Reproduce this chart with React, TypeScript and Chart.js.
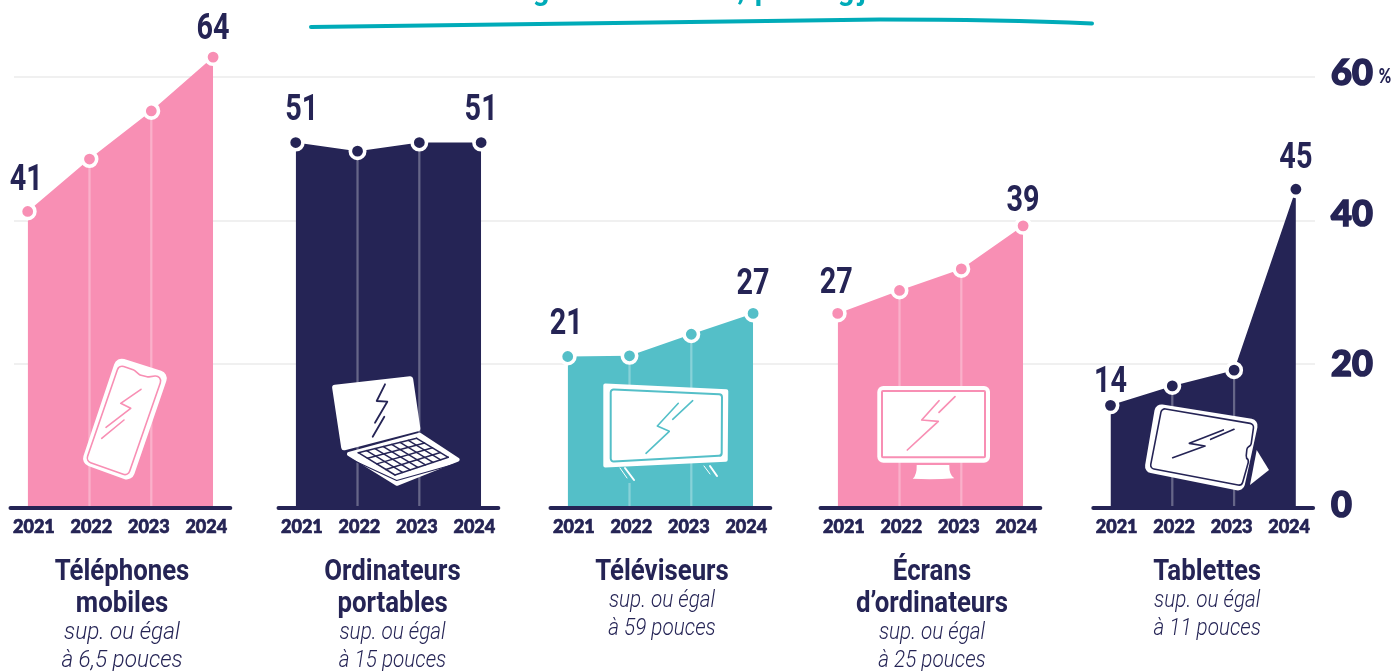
import React, { useEffect, useRef } from "react";
import { Chart, registerables } from "chart.js";

Chart.register(...registerables);

const years = ["2021", "2022", "2023", "2024"];
const categories = ["Téléphones mobiles", "Ordinateurs portables", "Téléviseurs", "Écrans d’ordinateurs", "Tablettes"];

// Heights of the plotted markers, as read against the axis
const telephones = [41.3, 48.6, 55.3, 62.8];
const ordinateurs = [50.9, 49.7, 50.9, 50.9];
const televiseurs = [21.1, 21.2, 24.2, 27.1];
const ecrans = [27.1, 30.3, 33.3, 39.3];
const tablettes = [14.3, 17.0, 19.2, 44.4];
const seriesValues = [telephones, ordinateurs, televiseurs, ecrans, tablettes];

// Figures printed in the picture, first and last year
const printedLabels = [["41", "64"], ["51", "51"], ["21", "27"], ["27", "39"], ["14", "45"]];
const titleLines = [["Téléphones", "mobiles"], ["Ordinateurs", "portables"], ["Téléviseurs"], ["Écrans", "d’ordinateurs"], ["Tablettes"]];
const subLines = [["sup. ou égal", "à 6,5 pouces"], ["sup. ou égal", "à 15 pouces"], ["sup. ou égal", "à 59 pouces"], ["sup. ou égal", "à 25 pouces"], ["sup. ou égal", "à 11 pouces"]];
const yTicks = [0, 20, 40, 60];
// The heading is cropped by the top of the picture: only these letter tails show
const headingTails = ["g", ",", "p", "g", "j"];

const NAVY = "#252455";
const PINK = "#f88fb4";
const TEAL = "#54bfc8";
const LINE = "#00abb8";
const colors = [PINK, NAVY, TEAL, PINK, NAVY];

// layout: horizontal start of each panel, in year-slots
const groupStart = [0, 4.337, 8.738, 13.107, 17.521];
const PX = 61.8; // pixels per slot
const X_LEFT = 14;
const X_RIGHT = 1315;
const X0 = 27.7;
const xMin = -(X0 - X_LEFT) / PX;
const xMax = xMin + (X_RIGHT - X_LEFT) / PX;
const tickStart = 0.1;
const tickStep = 0.93;
const tailX = [541, 741, 763, 846, 862];
const labelDy = [[-30, -27], [-32, -32], [-32, -28], [-29, -24], [-22, -30]];
const titleDx = [94.3, 96.8, 94.3, 94.3, 96.7];
const tickLift: Record<number, string> = { 0: "6px", 20: "1px", 40: "12px", 60: "8px" };

type P = [number, number];

function poly(ctx: CanvasRenderingContext2D, pts: P[], r = 0) {
  ctx.beginPath();
  const n = pts.length;
  if (r === 0) {
    pts.forEach((p, i) => (i ? ctx.lineTo(p[0], p[1]) : ctx.moveTo(p[0], p[1])));
  } else {
    const a = pts[n - 1], b = pts[0];
    ctx.moveTo((a[0] + b[0]) / 2, (a[1] + b[1]) / 2);
    for (let i = 0; i < n; i++) {
      const c = pts[i], d = pts[(i + 1) % n];
      ctx.arcTo(c[0], c[1], (c[0] + d[0]) / 2, (c[1] + d[1]) / 2, r);
    }
  }
  ctx.closePath();
}

function polyline(ctx: CanvasRenderingContext2D, pts: P[], color: string, w: number) {
  ctx.beginPath();
  pts.forEach((p, i) => (i ? ctx.lineTo(p[0], p[1]) : ctx.moveTo(p[0], p[1])));
  ctx.strokeStyle = color;
  ctx.lineWidth = w;
  ctx.lineCap = "round";
  ctx.lineJoin = "round";
  ctx.stroke();
}

function fillPoly(ctx: CanvasRenderingContext2D, pts: P[], color: string, r = 0) {
  poly(ctx, pts, r);
  ctx.fillStyle = color;
  ctx.fill();
}

function strokePoly(ctx: CanvasRenderingContext2D, pts: P[], color: string, w: number, r = 0) {
  poly(ctx, pts, r);
  ctx.strokeStyle = color;
  ctx.lineWidth = w;
  ctx.lineJoin = "round";
  ctx.stroke();
}

function drawIcons(ctx: CanvasRenderingContext2D) {
  // phone
  fillPoly(ctx, [[116.7, 356.7], [169, 373.3], [131.7, 481.7], [81, 463.3]], "#fff", 8);
  strokePoly(ctx, [[119, 365], [134, 370], [140, 375], [148, 377], [163, 375], [128, 476], [86, 461]], PINK, 1.6, 5);
  polyline(ctx, [[141, 389.3], [120.7, 403.3], [130.7, 408.3], [106, 427.3]], PINK, 1.6);
  polyline(ctx, [[124, 420], [101.7, 438.3]], PINK, 1.6);

  // laptop
  fillPoly(ctx, [[331.7, 385], [412.7, 376], [420.7, 430.7], [341.7, 451]], "#fff", 3);
  polyline(ctx, [[385, 384.3], [376.7, 401], [387.3, 401.7], [375, 422.7]], NAVY, 1.8);
  polyline(ctx, [[384.3, 416.7], [372.7, 436.7]], NAVY, 1.8);
  fillPoly(ctx, [[344, 453.3], [420, 432.5], [462, 460], [396.7, 486]], "#fff", 2);
  const A: P = [358.3, 452.7], B: P = [416.7, 438.3], C: P = [448.3, 457.3], D: P = [395, 475];
  const lerp = (p: P, q: P, t: number): P => [p[0] + (q[0] - p[0]) * t, p[1] + (q[1] - p[1]) * t];
  for (let i = 0; i <= 4; i++) {
    polyline(ctx, [lerp(A, D, i / 4), lerp(B, C, i / 4)], NAVY, 1.5);
  }
  for (let i = 0; i <= 7; i++) {
    polyline(ctx, [lerp(A, B, i / 7), lerp(D, C, i / 7)], NAVY, 1.5);
  }
  polyline(ctx, [[346, 457], [396.7, 480.5], [459, 463]], NAVY, 1.2);

  // television
  ctx.fillStyle = TEAL;
  ctx.fillRect(627, 466, 9, 17);
  fillPoly(ctx, [[603.3, 383.3], [728.3, 389.3], [727.7, 461.7], [603.3, 467.7]], "#fff", 2);
  strokePoly(ctx, [[610.7, 389.3], [722, 394.3], [721.7, 455.7], [610.7, 461.7]], TEAL, 2, 3);
  polyline(ctx, [[678.3, 403.3], [657.3, 426], [669.3, 431.3], [646, 453.3]], TEAL, 1.6);
  polyline(ctx, [[692.7, 400.7], [672.7, 419.3]], TEAL, 1.6);
  polyline(ctx, [[625, 468], [634, 480]], "#fff", 2);
  polyline(ctx, [[620, 468], [627, 478]], "#fff", 1);
  polyline(ctx, [[710, 466], [717, 476]], "#fff", 2);
  polyline(ctx, [[704, 466], [710, 474]], "#fff", 1);

  // monitor
  fillPoly(ctx, [[877.3, 386], [990, 386], [990, 462.7], [877.3, 462.7]], "#fff", 6);
  strokePoly(ctx, [[882, 391], [985, 391], [985, 457.3], [882, 457.3]], PINK, 2, 1);
  polyline(ctx, [[939, 400.7], [921.7, 420], [938.3, 421.3], [907.3, 450]], PINK, 1.7);
  polyline(ctx, [[955, 396.7], [939, 412.3]], PINK, 1.7);
  ctx.beginPath();
  ctx.moveTo(916.7, 465);
  ctx.lineTo(949.3, 465);
  ctx.quadraticCurveTo(949, 475, 954.3, 478.3);
  ctx.quadraticCurveTo(933, 480, 912.7, 478.8);
  ctx.quadraticCurveTo(917, 475, 916.7, 465);
  ctx.closePath();
  ctx.fillStyle = "#fff";
  ctx.fill();

  // tablet
  fillPoly(ctx, [[1256.7, 450], [1269, 470], [1250, 485]], "#fff");
  fillPoly(ctx, [[1155.7, 403.5], [1259, 420], [1243.3, 491.7], [1144, 471.7]], "#fff", 7);
  strokePoly(ctx, [[1161.7, 408.3], [1254, 424], [1251, 445], [1247, 448], [1246, 458], [1249, 460], [1241.7, 485.7], [1150, 468.3]], NAVY, 1.6, 4);
  polyline(ctx, [[1223.3, 430], [1189.3, 443.3], [1205, 446], [1172.7, 457.7]], NAVY, 1.7);
  polyline(ctx, [[1234, 429.3], [1210.7, 439.3]], NAVY, 1.7);
}

function condensed(ctx: CanvasRenderingContext2D, text: string, x: number, y: number, font: string, color: string, sx = 0.82) {
  ctx.save();
  ctx.translate(x, y);
  ctx.scale(sx, 1);
  ctx.font = font;
  ctx.fillStyle = color;
  ctx.textAlign = "center";
  ctx.textBaseline = "middle";
  ctx.fillText(text, 0, 0);
  ctx.restore();
}

const decor = {
  id: "decor",
  afterDatasetDraw(chart: any, args: any) {
    // icons go above the drop lines, under the markers
    if (args.index !== seriesValues.length) return;
    drawIcons(chart.ctx);
  },
  afterDraw(chart: any) {
    const { ctx, scales } = chart;
    const x = scales.x;
    const y = scales.y;
    ctx.save();

    // base line of each panel
    groupStart.forEach((g) => {
      const px = x.getPixelForValue(g);
      const y0 = y.getPixelForValue(0);
      polyline(ctx, [[px - 17.2, y0], [px + 202.6, y0]], NAVY, 4);
    });

    // printed figures
    printedLabels.forEach((pair, g) => {
      [0, 3].forEach((i, k) => {
        const px = x.getPixelForValue(groupStart[g] + i);
        const py = y.getPixelForValue(seriesValues[g][i]);
        const dx = g === 1 && k === 0 ? 6 : k === 0 && g !== 4 ? -1.5 : 0;
        condensed(ctx, pair[k], px + dx, py + labelDy[g][k], "bold 36px Roboto", NAVY, 0.8);
      });
    });

    // panel titles
    titleLines.forEach((lines, g) => {
      const cx = x.getPixelForValue(groupStart[g]) + titleDx[g];
      lines.forEach((t, i) => condensed(ctx, t, cx, 573 + i * 32, "bold 29px Roboto", NAVY, 0.89));
      const top = lines.length === 2 ? 633 : 601;
      const first = g === 0;
      subLines[g].forEach((t, i) =>
        condensed(ctx, t, cx, top + i * 28, first ? "italic 300 24px Roboto" : "italic 300 23px Roboto", NAVY, first ? 0.94 : 0.9)
      );
    });

    condensed(ctx, "%", 1385, 77, "900 20px Lato", NAVY, 0.75);

    // underline of the cropped heading and the tails of its letters
    ctx.beginPath();
    ctx.moveTo(311, 27);
    ctx.quadraticCurveTo(700, 21, 880, 19.5);
    ctx.quadraticCurveTo(1000, 19.5, 1092, 23.5);
    ctx.strokeStyle = LINE;
    ctx.lineWidth = 4;
    ctx.lineCap = "round";
    ctx.stroke();

    ctx.font = "bold 29px Roboto";
    ctx.fillStyle = LINE;
    ctx.textAlign = "center";
    ctx.textBaseline = "alphabetic";
    headingTails.forEach((t, i) => ctx.fillText(t, tailX[i], 0));

    ctx.restore();
  },
};

export default function App() {
  const ref = useRef<HTMLCanvasElement>(null);

  useEffect(() => {
    document.body.style.margin = "0";
    document.body.style.overflow = "hidden";
    const areaSets = seriesValues.map((vals, g) => ({
      type: "line",
      label: categories[g],
      data: vals.map((v, i) => ({ x: groupStart[g] + i, y: v })),
      backgroundColor: colors[g],
      borderWidth: 0,
      fill: "origin",
      tension: 0,
      pointRadius: 0,
      order: 3,
    }));
    const drops = {
      type: "bar",
      label: "repères",
      data: seriesValues.flatMap((vals, g) => [1, 2].map((i) => ({ x: groupStart[g] + i, y: vals[i] }))),
      backgroundColor: "rgba(255,255,255,0.3)",
      barThickness: 1.6,
      grouped: false,
      order: 2,
    };
    const markers = seriesValues.map((vals, g) => ({
      type: "line",
      label: categories[g] + " (points)",
      data: vals.map((v, i) => ({ x: groupStart[g] + i, y: v })),
      showLine: false,
      pointRadius: 7.2,
      pointBorderWidth: 3.6,
      pointBackgroundColor: colors[g],
      pointBorderColor: "#fff",
      clip: false,
      order: 1,
    }));

    const chart = new Chart(ref.current as HTMLCanvasElement, {
      type: "line",
      data: { datasets: [...areaSets, drops, ...markers] as any },
      plugins: [decor],
      options: {
        animation: false,
        responsive: false,
        layout: { autoPadding: false, padding: { left: X_LEFT, top: 0, right: 0, bottom: 0 } },
        plugins: { legend: { display: false }, tooltip: { enabled: false }, title: { display: false } },
        scales: {
          x: {
            type: "linear",
            offset: false,
            min: xMin,
            max: xMax,
            grid: { display: false },
            border: { display: false },
            afterFit(s: any) {
              s.height = 163;
              s.paddingLeft = 0;
              s.paddingRight = 0;
            },
            afterBuildTicks(s: any) {
              s.ticks = groupStart.flatMap((g) => years.map((_, i) => ({ value: g + tickStart + i * tickStep })));
            },
            afterTickToLabelConversion(s: any) {
              s.ticks.forEach((t: any, i: number) => { t.label = years[i % 4]; });
            },
            ticks: {
              autoSkip: false,
              maxRotation: 0,
              padding: 0,
              color: NAVY,
              textStrokeColor: NAVY,
              textStrokeWidth: 0.7,
              font: { family: "Lato", weight: "900", size: 18 },
            },
          },
          y: {
            type: "linear",
            position: "right",
            min: 0,
            max: 508 / 7.18,
            afterFit(s: any) {
              s.width = 1396 - X_RIGHT;
              s.paddingTop = 0;
              s.paddingBottom = 0;
            },
            afterBuildTicks(s: any) { s.ticks = yTicks.map((value) => ({ value })); },
            grid: {
              color: (c: any) => (c.tick && c.tick.value === 0 ? "rgba(0,0,0,0)" : "#f0f0f0"),
              lineWidth: 2,
              drawTicks: false,
            },
            border: { display: false },
            ticks: {
              padding: 16,
              align: "center",
              crossAlign: "near",
              color: NAVY,
              textStrokeColor: NAVY,
              textStrokeWidth: 1.6,
              font: (c: any) => ({
                family: "Lato",
                weight: "900",
                size: 36,
                lineHeight: c.tick ? tickLift[c.tick.value] || "8px" : "8px",
              }),
              // a blank second line lifts each figure slightly above its grid line
              callback: (v: any) => [String(v), ""],
            },
          },
        },
      } as any,
    });
    return () => chart.destroy();
  }, []);

  return (
    <div style={{ position: "fixed", left: 0, top: 0, width: 1396, height: 671, background: "#fff" }}>
      <canvas ref={ref} width={1396} height={671} style={{ display: "block" }} />
    </div>
  );
}
